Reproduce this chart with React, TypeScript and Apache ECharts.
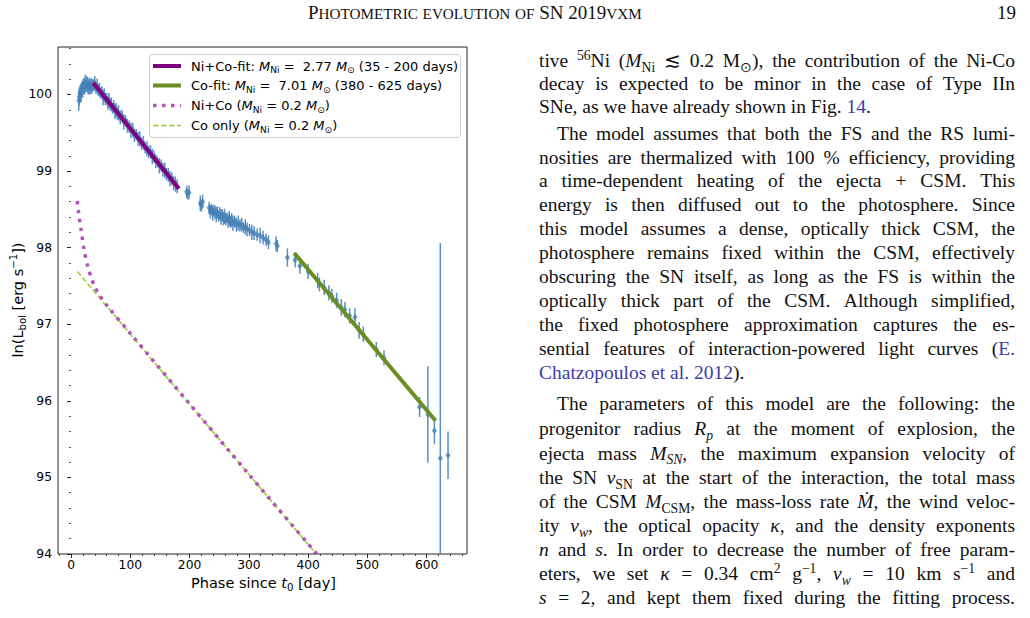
import React, { useEffect, useRef } from "react";
import * as echarts from "echarts";

// ---------------- data ----------------
const phase = [
  13, 14, 15, 16, 17, 18, 19, 20, 21, 22, 23, 24, 25, 26, 27, 28, 29, 30, 31, 32, 33, 34, 35, 36,
  38, 40, 42, 44, 46, 48, 50, 52, 54, 56, 58, 60, 62, 64, 66, 68, 70, 72, 74, 76, 78, 80,
  83, 86, 89, 92, 95, 98, 101, 104, 107, 110, 113, 116, 119, 122, 125, 128, 131, 134, 137, 140,
  143, 146, 149, 152, 155, 158, 161, 164, 167, 170, 173, 176, 179,
  195, 197, 199, 218, 220, 222,
  233, 235, 237, 239, 241, 243, 245, 247, 249, 251, 253, 255, 257, 259, 261, 263, 265, 267, 269, 271, 273,
  276, 279, 282, 285, 288, 291, 294, 297, 301, 305, 309, 314, 319, 324, 329, 333, 346, 348,
  365, 378, 386, 400, 416, 419, 427, 435, 440, 448, 456, 462, 470, 479, 486, 493, 515, 528,
  588, 602, 613, 623, 636,
];
const lum = [
  99.92, 99.97, 100.0, 100.04, 100.02, 100.06, 100.09, 100.07, 100.11, 100.13, 100.1, 100.15,
  100.12, 100.14, 100.11, 100.13, 100.09, 100.12, 100.1, 100.13, 100.09, 100.11, 100.1, 100.12,
  100.12, 100.15, 100.08, 100.11, 100.06, 100.06, 100.02, 100.03, 99.96, 99.99, 99.94, 99.95,
  99.89, 99.92, 99.87, 99.87, 99.82, 99.85, 99.78, 99.8, 99.75, 99.76,
  99.7, 99.72, 99.64, 99.66, 99.59, 99.58, 99.53, 99.54, 99.46, 99.48, 99.42, 99.42, 99.36, 99.37,
  99.3, 99.29, 99.25, 99.25, 99.19, 99.19, 99.13, 99.12, 99.07, 99.07, 99.02, 99.01, 98.96, 98.95,
  98.9, 98.9, 98.84, 98.83, 98.8,
  98.73, 98.7, 98.72, 98.58, 98.55, 98.6,
  98.52, 98.47, 98.5, 98.45, 98.48, 98.46, 98.43, 98.46, 98.41, 98.44, 98.4, 98.42, 98.38, 98.41,
  98.37, 98.39, 98.35, 98.38, 98.34, 98.36, 98.32,
  98.34, 98.3, 98.32, 98.29, 98.3, 98.26, 98.27, 98.24, 98.23, 98.2, 98.19, 98.17, 98.16, 98.13,
  98.1, 98.07, 98.05, 98.02,
  97.87, 97.84, 97.76, 97.69, 97.57, 97.52, 97.48, 97.41, 97.37, 97.31, 97.22, 97.19, 97.11, 97.09,
  96.92, 96.87, 96.67, 96.56,
  95.92, 95.82, 95.61, 95.25, 95.29,
];
const lumErr = [
  0.13, 0.12, 0.11, 0.1, 0.12, 0.1, 0.09, 0.11, 0.1, 0.09, 0.1, 0.11, 0.09, 0.1, 0.08, 0.1, 0.09,
  0.08, 0.1, 0.09, 0.08, 0.1, 0.09, 0.08,
  0.08, 0.09, 0.07, 0.1, 0.08, 0.09, 0.07, 0.08, 0.1, 0.09, 0.08, 0.07, 0.09, 0.1, 0.08, 0.09,
  0.07, 0.08, 0.1, 0.09, 0.08, 0.1,
  0.09, 0.08, 0.1, 0.07, 0.09, 0.08, 0.1, 0.09, 0.08, 0.07, 0.09, 0.1, 0.08, 0.09, 0.07, 0.1,
  0.08, 0.09, 0.1, 0.08, 0.09, 0.07, 0.1, 0.08, 0.09, 0.1, 0.08, 0.09, 0.1, 0.08, 0.09, 0.1, 0.09,
  0.08, 0.07, 0.09, 0.1, 0.08, 0.09,
  0.08, 0.09, 0.07, 0.1, 0.08, 0.09, 0.1, 0.08, 0.07, 0.09, 0.1, 0.08, 0.09, 0.1, 0.08, 0.07,
  0.09, 0.1, 0.08, 0.09, 0.1,
  0.08, 0.09, 0.1, 0.08, 0.09, 0.07, 0.1, 0.09, 0.08, 0.1, 0.09, 0.08, 0.1, 0.09, 0.08, 0.09, 0.1, 0.08,
  0.12, 0.1, 0.1, 0.1, 0.1, 0.09, 0.1, 0.1, 0.09, 0.1, 0.11, 0.1, 0.1, 0.12, 0.11, 0.1, 0.1, 0.1,
  0.13, 0.63, 0.17, 2.81, 0.31,
];

// Ni+Co fit (35 - 200 days)
const niCoFitPhase = [37.6, 110, 182];
const niCoFitLum = [100.15, 99.46, 98.77];
// Co fit (380 - 625 days)
const coFitPhase = [376.6, 615];
const coFitLum = [97.93, 95.74];
// Ni+Co model, M_Ni = 0.2
const niCoModelPhase = [10.6, 12.3, 16.9, 21.9, 28.7, 33.7, 39.3, 47.2, 60, 100, 200, 300, 430];
const niCoModelLum = [98.61, 98.48, 98.23, 97.98, 97.74, 97.62, 97.5, 97.39, 97.25, 96.88, 95.96, 95.04, 93.86];
// Co only model, M_Ni = 0.2
const coOnlyPhase = [10.6, 430];
const coOnlyLum = [97.69, 93.85];

const xMajorTicks = [0, 100, 200, 300, 400, 500, 600];
const yMajorTicks = [94, 95, 96, 97, 98, 99, 100];

// markup: *italic*, _{sub}, _(italic sub), ^{sup}, <link>
const legendLabels = [
  "Ni+Co-fit: *M*_{Ni} =  2.77 *M*_{⊙} (35 - 200 days)",
  "Co-fit: *M*_{Ni} =  7.01 *M*_{⊙} (380 - 625 days)",
  "Ni+Co (*M*_{Ni} = 0.2 *M*_{⊙})",
  "Co only (*M*_{Ni} = 0.2 *M*_{⊙})",
];
const xTitle = "Phase since *t*_{0} [day]";
const yTitle = "ln(L_{bol} [erg s^{−1}])";

const headerText = "Photometric evolution of SN 2019vxm";
const pageNumber = "19";

const bodyLines = [
  "tive ^{56}Ni (*M*_{Ni} ≲ 0.2 M_{⊙}), the contribution of the Ni-Co",
  "decay is expected to be minor in the case of Type IIn",
  "SNe, as we have already shown in Fig. <14>.",
  "The model assumes that both the FS and the RS lumi-",
  "nosities are thermalized with 100 % efficiency, providing",
  "a time-dependent heating of the ejecta + CSM. This",
  "energy is then diffused out to the photosphere. Since",
  "this model assumes a dense, optically thick CSM, the",
  "photosphere remains fixed within the CSM, effectively",
  "obscuring the SN itself, as long as the FS is within the",
  "optically thick part of the CSM. Although simplified,",
  "the fixed photosphere approximation captures the es-",
  "sential features of interaction-powered light curves (<E.>",
  "<Chatzopoulos et al. 2012>).",
  "The parameters of this model are the following: the",
  "progenitor radius *R*_(p) at the moment of explosion, the",
  "ejecta mass *M*_(SN), the maximum expansion velocity of",
  "the SN *v*_{SN} at the start of the interaction, the total mass",
  "of the CSM *M*_{CSM}, the mass-loss rate *Ṁ*, the wind veloc-",
  "ity *v*_(w), the optical opacity *κ*, and the density exponents",
  "*n* and *s*. In order to decrease the number of free param-",
  "eters, we set *κ* = 0.34 cm^{2} g^{−1}, *v*_(w) = 10 km s^{−1} and",
  "*s* = 2, and kept them fixed during the fitting process.",
];
const paragraphStarts = [3, 14];
const paragraphEnds = [2, 13];

// ---------------- layout constants ----------------
const X_MIN = -22;
const X_MAX = 668;
const Y_MIN = 94;
const Y_MAX = 100.62;
const PLOT = { left: 58, top: 47, right: 467, bottom: 554 };
const SANS = "DejaVu Sans";
const SERIF = "Liberation Serif";
const BODY_CENTERS = [61, 84, 107, 134, 158, 181, 205, 229, 253, 277, 301, 325, 349, 373,
  404, 429, 453.5, 478, 502, 526, 550, 574, 598];

// ---------------- rich text helpers ----------------
type Ch = { c: string; st: string; blue: boolean };
type Base = { family: string; size: number; color: string; blue?: string };

function parse(src: string, smallCaps = false): Ch[][] {
  const out: Ch[] = [];
  let italic = false;
  let blue = false;
  let mode = "";
  for (let i = 0; i < src.length; i++) {
    const c = src[i];
    if (!mode) {
      if (c === "*") { italic = !italic; continue; }
      if (c === "<") { blue = true; continue; }
      if (c === ">") { blue = false; continue; }
      if (c === "^" && src[i + 1] === "{") { mode = "sup"; i++; continue; }
      if (c === "_" && src[i + 1] === "{") { mode = "sub"; i++; continue; }
      if (c === "_" && src[i + 1] === "(") { mode = "isub"; i++; continue; }
    } else if ((mode === "isub" && c === ")") || (mode !== "isub" && c === "}")) {
      mode = "";
      continue;
    }
    let st = mode || (italic ? "i" : "r");
    let ch = c;
    if (smallCaps && st === "r" && c !== c.toUpperCase()) {
      st = "sc";
      ch = c.toUpperCase();
    }
    out.push({ c: ch, st, blue });
  }
  const words: Ch[][] = [[]];
  for (const o of out) {
    if (o.c === " ") words.push([]);
    else words[words.length - 1].push(o);
  }
  return words;
}

function fontOf(st: string, base: Base) {
  const s = base.size;
  switch (st) {
    case "i": return { style: "italic", size: s, dy: 0 };
    case "sub": return { style: "normal", size: s * 0.7, dy: s * 0.22 };
    case "isub": return { style: "italic", size: s * 0.7, dy: s * 0.22 };
    case "sup": return { style: "normal", size: s * 0.7, dy: -s * 0.4 };
    case "sc": return { style: "normal", size: s * 0.8, dy: 0 };
    default: return { style: "normal", size: s, dy: 0 };
  }
}

let measureCtx: CanvasRenderingContext2D | null = null;
function measure(t: string, style: string, size: number, family: string) {
  if (!measureCtx) measureCtx = document.createElement("canvas").getContext("2d");
  measureCtx!.font = `${style} normal ${size}px "${family}"`;
  return measureCtx!.measureText(t).width;
}

function buildLine(
  src: string,
  base: Base,
  x: number,
  baseline: number,
  opts: { justifyTo?: number; align?: "left" | "center" | "right"; smallCaps?: boolean } = {}
) {
  const words = parse(src, opts.smallCaps);
  const prepared = words.map((w) => {
    const runs: { t: string; st: string; blue: boolean; w: number }[] = [];
    for (const ch of w) {
      const last = runs[runs.length - 1];
      if (last && last.st === ch.st && last.blue === ch.blue) last.t += ch.c;
      else runs.push({ t: ch.c, st: ch.st, blue: ch.blue, w: 0 });
    }
    let width = 0;
    for (const r of runs) {
      const f = fontOf(r.st, base);
      r.w = measure(r.t, f.style, f.size, base.family);
      width += r.w;
    }
    return { runs, width };
  });
  const spaceW = measure(" ", "normal", base.size, base.family);
  const total = prepared.reduce((a, p) => a + p.width, 0);
  let gap = spaceW;
  if (opts.justifyTo != null && prepared.length > 1) {
    gap = (opts.justifyTo - x - total) / (prepared.length - 1);
  }
  const fullW = total + gap * (prepared.length - 1);
  let cx = opts.align === "center" ? x - fullW / 2 : opts.align === "right" ? x - fullW : x;
  const els: any[] = [];
  prepared.forEach((p) => {
    for (const r of p.runs) {
      const f = fontOf(r.st, base);
      els.push({
        type: "text",
        x: cx,
        y: baseline + f.dy - 0.34 * f.size,
        silent: true,
        z: 60,
        style: {
          text: r.t,
          fontSize: f.size,
          fontFamily: base.family,
          fontStyle: f.style,
          fontWeight: "normal",
          fill: r.blue ? base.blue || base.color : base.color,
          textAlign: "left",
          textVerticalAlign: "middle",
          align: "left",
          verticalAlign: "middle",
        },
      });
      cx += r.w;
    }
    cx += gap;
  });
  return els;
}

function buildGraphics() {
  const els: any[] = [];
  // header
  const head: Base = { family: SERIF, size: 19, color: "#111" };
  els.push(...buildLine(headerText, head, 308, 19, { smallCaps: true }));
  els.push(...buildLine(pageNumber, { family: SERIF, size: 19, color: "#111" }, 1016, 19, { align: "right" }));

  // body
  const body: Base = { family: SERIF, size: 19.5, color: "#111", blue: "#3c3ca8" };
  bodyLines.forEach((ln, i) => {
    const indent = paragraphStarts.includes(i);
    const justify = !paragraphEnds.includes(i);
    els.push(
      ...buildLine(ln, body, indent ? 557 : 539, BODY_CENTERS[i] + 6.5, justify ? { justifyTo: 1015 } : {})
    );
  });

  // axis titles
  const axisFont: Base = { family: SANS, size: 14.5, color: "#000" };
  els.push(...buildLine(xTitle, axisFont, 263.5, 588, { align: "center" }));
  els.push({
    type: "group",
    x: 18,
    y: 300,
    rotation: Math.PI / 2,
    silent: true,
    children: buildLine(yTitle, axisFont, 0, 5, { align: "center" }),
  });

  // legend
  els.push({
    type: "rect",
    silent: true,
    z: 50,
    shape: { x: 149.5, y: 54.5, width: 311, height: 83, r: 3 },
    style: { fill: "rgba(255,255,255,0.85)", stroke: "#cccccc", lineWidth: 1 },
  });
  const rows = [66, 85.5, 105.5, 125.5];
  const legendStyles = [
    { stroke: "#800080", lineWidth: 4 },
    { stroke: "#6b8e23", lineWidth: 4 },
    { stroke: "#b451bb", lineWidth: 3.5, lineDash: [3.5, 5.5] },
    { stroke: "#9acd32", lineWidth: 1.5, lineDash: [5.5, 2.5] },
  ];
  const legFont: Base = { family: SANS, size: 13, color: "#000" };
  rows.forEach((ry, i) => {
    els.push({
      type: "line",
      silent: true,
      z: 55,
      shape: { x1: 153, y1: ry, x2: 181, y2: ry },
      style: { ...legendStyles[i], lineCap: "butt" },
    });
    els.push(...buildLine(legendLabels[i], legFont, 191, ry + 4.6));
  });
  return els;
}

// ---------------- component ----------------
export default function App() {
  const ref = useRef<HTMLDivElement>(null);
  useEffect(() => {
    if (!ref.current) return;
    const chart = echarts.init(ref.current, null, { renderer: "svg" });

    const xMinor: number[] = [];
    for (let v = -20; v <= 660; v += 20) xMinor.push(v);
    const yMinor: number[] = [];
    for (let k = 1; k <= 33; k++) yMinor.push(Number((94 + 0.2 * k).toFixed(1)));

    const axisColor = "#262626";
    const option: any = {
      animation: false,
      backgroundColor: "#ffffff",
      grid: {
        left: PLOT.left,
        top: PLOT.top,
        right: 1030 - PLOT.right,
        bottom: 618 - PLOT.bottom,
        show: true,
        borderColor: axisColor,
        borderWidth: 1,
        backgroundColor: "transparent",
      },
      xAxis: [
        {
          type: "value",
          min: X_MIN,
          max: X_MAX,
          position: "bottom",
          splitLine: { show: false },
          axisLine: { show: false },
          axisTick: { show: true, inside: false, length: 4, customValues: xMajorTicks, lineStyle: { color: axisColor, width: 1 } },
          axisLabel: { show: true, customValues: xMajorTicks, margin: 5, color: "#000", fontSize: 12.3, fontFamily: SANS },
        },
        {
          type: "value",
          min: X_MIN,
          max: X_MAX,
          position: "bottom",
          splitLine: { show: false },
          axisLine: { show: false },
          axisTick: { show: true, inside: false, length: 2, customValues: xMinor, lineStyle: { color: axisColor, width: 0.8 } },
          axisLabel: { show: false },
        },
      ],
      yAxis: [
        {
          type: "value",
          min: Y_MIN,
          max: Y_MAX,
          position: "left",
          splitLine: { show: false },
          axisLine: { show: false },
          axisTick: { show: true, inside: false, length: 4, customValues: yMajorTicks, lineStyle: { color: axisColor, width: 1 } },
          axisLabel: { show: true, customValues: yMajorTicks, margin: 6, color: "#000", fontSize: 12.3, fontFamily: SANS },
        },
        {
          type: "value",
          min: Y_MIN,
          max: Y_MAX,
          position: "left",
          splitLine: { show: false },
          axisLine: { show: false },
          axisTick: { show: true, inside: false, length: 2, customValues: yMinor, lineStyle: { color: axisColor, width: 0.8 } },
          axisLabel: { show: false },
        },
      ],
      series: [
        {
          type: "custom",
          name: "errors",
          xAxisIndex: 0,
          yAxisIndex: 0,
          silent: true,
          z: 2,
          encode: { x: 0, y: 1 },
          data: phase.map((p, i) => [p, lum[i], lumErr[i]]),
          renderItem: (_params: any, api: any) => {
            const x = api.value(0);
            const y = api.value(1);
            const e = api.value(2);
            const lo = Math.max(y - e, Y_MIN);
            const hi = Math.min(y + e, Y_MAX);
            const p1 = api.coord([x, lo]);
            const p2 = api.coord([x, hi]);
            return {
              type: "line",
              shape: { x1: p1[0], y1: p1[1], x2: p2[0], y2: p2[1] },
              style: { stroke: "#5a91c3", lineWidth: 1.5 },
            };
          },
        },
        {
          type: "scatter",
          name: "data",
          silent: true,
          z: 3,
          symbol: "diamond",
          symbolSize: [5, 7],
          itemStyle: { color: "#4681b6" },
          data: phase.map((p, i) => [p, lum[i]]),
        },
        {
          type: "line",
          name: "Co only",
          silent: true,
          z: 4,
          symbol: "none",
          lineStyle: { color: "#9acd32", width: 1.5, type: [5.5, 2.5] },
          data: coOnlyPhase.map((p, i) => [p, coOnlyLum[i]]),
        },
        {
          type: "line",
          name: "Ni+Co",
          silent: true,
          z: 5,
          symbol: "none",
          smooth: 0.3,
          lineStyle: { color: "#b451bb", width: 3.5, type: [3.5, 5.5], cap: "butt" },
          data: niCoModelPhase.map((p, i) => [p, niCoModelLum[i]]),
        },
        {
          type: "line",
          name: "Ni+Co-fit",
          silent: true,
          z: 6,
          symbol: "none",
          lineStyle: { color: "#800080", width: 4 },
          data: niCoFitPhase.map((p, i) => [p, niCoFitLum[i]]),
        },
        {
          type: "line",
          name: "Co-fit",
          silent: true,
          z: 6,
          symbol: "none",
          lineStyle: { color: "#6b8e23", width: 4 },
          data: coFitPhase.map((p, i) => [p, coFitLum[i]]),
        },
      ],
      graphic: { elements: buildGraphics() },
    };
    chart.setOption(option);
    return () => chart.dispose();
  }, []);

  return (
    <div
      ref={ref}
      style={{ position: "absolute", left: 0, top: 0, width: 1030, height: 618, background: "#fff" }}
    />
  );
}
